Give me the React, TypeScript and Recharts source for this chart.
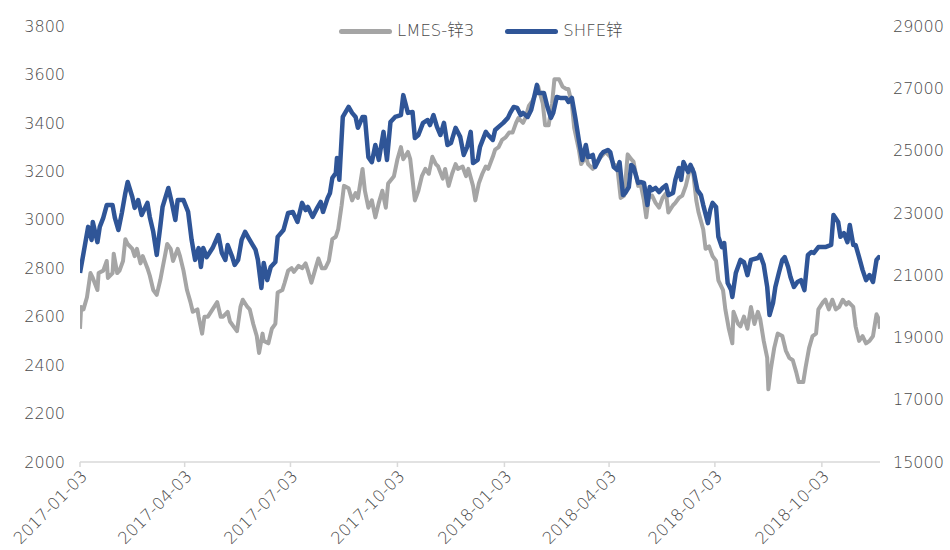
import React from 'react';
import { LineChart, Line, XAxis, YAxis, Legend } from 'recharts';

const lmeDates = [
  '2017-01-03','2017-01-04','2017-01-06','2017-01-09','2017-01-12','2017-01-14','2017-01-18','2017-01-19','2017-01-23','2017-01-26',
  '2017-01-27','2017-01-31','2017-02-01','2017-02-04','2017-02-06','2017-02-09','2017-02-11','2017-02-13','2017-02-17','2017-02-19',
  '2017-02-21','2017-02-24','2017-02-26','2017-03-02','2017-03-04','2017-03-07','2017-03-10','2017-03-13','2017-03-15','2017-03-19',
  '2017-03-22','2017-03-24','2017-03-28','2017-03-30','2017-04-02','2017-04-05','2017-04-08','2017-04-10','2017-04-14','2017-04-15',
  '2017-04-18','2017-04-20','2017-04-23','2017-04-27','2017-05-01','2017-05-04','2017-05-06','2017-05-10','2017-05-12','2017-05-15',
  '2017-05-18','2017-05-21','2017-05-23','2017-05-27','2017-05-29','2017-06-01','2017-06-04','2017-06-06','2017-06-09','2017-06-10',
  '2017-06-14','2017-06-17','2017-06-20','2017-06-22','2017-06-26','2017-06-28','2017-07-01','2017-07-04','2017-07-06','2017-07-10',
  '2017-07-13','2017-07-16','2017-07-18','2017-07-21','2017-07-24','2017-07-27','2017-07-30','2017-08-02','2017-08-05','2017-08-08',
  '2017-08-11','2017-08-13','2017-08-16','2017-08-18','2017-08-22','2017-08-25','2017-08-28','2017-08-30','2017-09-03','2017-09-05',
  '2017-09-08','2017-09-11','2017-09-14','2017-09-17','2017-09-20','2017-09-23','2017-09-25','2017-09-30','2017-10-03','2017-10-06',
  '2017-10-08','2017-10-12','2017-10-14','2017-10-18','2017-10-21','2017-10-24','2017-10-27','2017-10-30','2017-11-02','2017-11-05',
  '2017-11-07','2017-11-11','2017-11-13','2017-11-16','2017-11-19','2017-11-22','2017-11-24','2017-11-28','2017-12-01','2017-12-03',
  '2017-12-07','2017-12-09','2017-12-12','2017-12-15','2017-12-18','2017-12-20','2017-12-24','2017-12-26','2017-12-29','2018-01-01',
  '2018-01-04','2018-01-07','2018-01-10','2018-01-13','2018-01-15','2018-01-19','2018-01-21','2018-01-24','2018-01-27','2018-01-30',
  '2018-02-01','2018-02-05','2018-02-07','2018-02-10','2018-02-13','2018-02-15','2018-02-19','2018-02-22','2018-02-25','2018-02-27',
  '2018-03-02','2018-03-04','2018-03-08','2018-03-10','2018-03-14','2018-03-16','2018-03-20','2018-03-22','2018-03-27','2018-03-31',
  '2018-04-04','2018-04-07','2018-04-10','2018-04-13','2018-04-16','2018-04-19','2018-04-22','2018-04-24','2018-04-28','2018-04-30',
  '2018-05-03','2018-05-05','2018-05-07','2018-05-10','2018-05-13','2018-05-16','2018-05-19','2018-05-22','2018-05-24','2018-05-28',
  '2018-05-30','2018-06-02','2018-06-05','2018-06-08','2018-06-11','2018-06-14','2018-06-17','2018-06-19','2018-06-23','2018-06-25',
  '2018-06-28','2018-07-01','2018-07-04','2018-07-06','2018-07-10','2018-07-12','2018-07-15','2018-07-18','2018-07-19','2018-07-23',
  '2018-07-25','2018-07-28','2018-07-31','2018-08-03','2018-08-06','2018-08-09','2018-08-11','2018-08-14','2018-08-17','2018-08-18',
  '2018-08-20','2018-08-23','2018-08-26','2018-08-30','2018-09-02','2018-09-05','2018-09-08','2018-09-11','2018-09-13','2018-09-17',
  '2018-09-19','2018-09-22','2018-09-25','2018-09-28','2018-09-30','2018-10-04','2018-10-06','2018-10-09','2018-10-12','2018-10-15',
  '2018-10-18','2018-10-21','2018-10-24','2018-10-26','2018-10-30','2018-11-01','2018-11-04','2018-11-07','2018-11-10','2018-11-13',
  '2018-11-16','2018-11-19','2018-11-21','2018-11-22',
];
const lmeValues = [
  2550,2640,2630,2680,2780,2760,2710,2780,2790,2830,
  2760,2780,2860,2780,2790,2830,2920,2900,2880,2850,
  2880,2820,2850,2800,2770,2710,2690,2750,2800,2900,
  2880,2830,2880,2850,2790,2710,2660,2620,2630,2600,
  2530,2600,2600,2630,2660,2600,2600,2620,2580,2560,
  2540,2640,2670,2640,2630,2570,2520,2450,2530,2500,
  2490,2550,2570,2700,2710,2740,2790,2800,2785,2810,
  2800,2820,2790,2740,2790,2840,2800,2800,2830,2920,
  2930,2960,3060,3140,3130,3080,3110,3090,3210,3120,
  3050,3080,3010,3070,3120,3050,3150,3180,3250,3300,
  3250,3280,3250,3080,3120,3180,3210,3190,3260,3230,
  3220,3170,3210,3140,3190,3230,3210,3220,3180,3210,
  3140,3080,3150,3190,3220,3210,3260,3290,3300,3330,
  3340,3360,3360,3400,3420,3400,3420,3470,3490,3520,
  3550,3480,3390,3390,3480,3580,3580,3550,3540,3540,
  3480,3380,3290,3230,3260,3230,3210,3230,3260,3280,
  3260,3230,3220,3090,3100,3270,3250,3240,3140,3150,
  3080,3010,3090,3100,3070,3050,3090,3110,3030,3060,
  3070,3090,3100,3140,3200,3210,3080,3030,2960,2880,
  2890,2850,2830,2750,2710,2630,2550,2490,2620,2570,
  2560,2600,2550,2640,2570,2620,2590,2500,2430,2300,
  2380,2470,2530,2520,2460,2430,2420,2370,2330,2330,
  2390,2470,2520,2530,2630,2660,2670,2630,2670,2630,
  2640,2670,2650,2660,2640,2560,2500,2520,2490,2500,
  2520,2610,2590,2550,
];

const shfeDates = [
  '2017-01-03','2017-01-05','2017-01-10','2017-01-13','2017-01-14','2017-01-18','2017-01-20','2017-01-23','2017-01-26','2017-01-31',
  '2017-02-02','2017-02-05','2017-02-08','2017-02-11','2017-02-13','2017-02-17','2017-02-19','2017-02-22','2017-02-25','2017-03-02',
  '2017-03-04','2017-03-07','2017-03-10','2017-03-13','2017-03-15','2017-03-20','2017-03-23','2017-03-26','2017-03-28','2017-04-02',
  '2017-04-06','2017-04-09','2017-04-12','2017-04-15','2017-04-17','2017-04-19','2017-04-22','2017-04-27','2017-05-02','2017-05-05',
  '2017-05-08','2017-05-10','2017-05-14','2017-05-16','2017-05-19','2017-05-22','2017-05-25','2017-05-28','2017-06-03','2017-06-05',
  '2017-06-08','2017-06-10','2017-06-13','2017-06-16','2017-06-20','2017-06-22','2017-06-27','2017-07-01','2017-07-05','2017-07-09',
  '2017-07-13','2017-07-16','2017-07-18','2017-07-22','2017-07-26','2017-07-29','2017-07-31','2017-08-04','2017-08-06','2017-08-08',
  '2017-08-11','2017-08-12','2017-08-14','2017-08-17','2017-08-22','2017-08-25','2017-08-28','2017-08-30','2017-09-03','2017-09-05',
  '2017-09-08','2017-09-11','2017-09-14','2017-09-17','2017-09-21','2017-09-24','2017-09-27','2017-10-01','2017-10-06','2017-10-08',
  '2017-10-12','2017-10-16','2017-10-18','2017-10-21','2017-10-25','2017-10-29','2017-10-31','2017-11-03','2017-11-06','2017-11-09',
  '2017-11-12','2017-11-15','2017-11-18','2017-11-22','2017-11-26','2017-11-29','2017-12-02','2017-12-05','2017-12-07','2017-12-11',
  '2017-12-13','2017-12-18','2017-12-20','2017-12-24','2017-12-26','2017-12-29','2018-01-02','2018-01-06','2018-01-08','2018-01-11',
  '2018-01-14','2018-01-17','2018-01-19','2018-01-23','2018-01-26','2018-01-28','2018-01-31','2018-02-01','2018-02-06','2018-02-09',
  '2018-02-12','2018-02-14','2018-02-17','2018-02-20','2018-02-25','2018-02-27','2018-03-02','2018-03-05','2018-03-08','2018-03-11',
  '2018-03-14','2018-03-16','2018-03-20','2018-03-22','2018-03-25','2018-03-27','2018-03-29','2018-04-02','2018-04-04','2018-04-07',
  '2018-04-10','2018-04-12','2018-04-15','2018-04-17','2018-04-20','2018-04-22','2018-04-24','2018-04-28','2018-04-30','2018-05-03',
  '2018-05-06','2018-05-08','2018-05-10','2018-05-13','2018-05-16','2018-05-19','2018-05-22','2018-05-24','2018-05-28','2018-05-30',
  '2018-06-02','2018-06-04','2018-06-06','2018-06-10','2018-06-12','2018-06-15','2018-06-18','2018-06-21','2018-06-23','2018-06-27',
  '2018-06-29','2018-07-01','2018-07-04','2018-07-06','2018-07-09','2018-07-11','2018-07-14','2018-07-17','2018-07-18','2018-07-21',
  '2018-07-25','2018-07-28','2018-07-31','2018-08-03','2018-08-09','2018-08-11','2018-08-14','2018-08-17','2018-08-19','2018-08-22',
  '2018-08-24','2018-08-27','2018-08-30','2018-09-01','2018-09-04','2018-09-06','2018-09-09','2018-09-12','2018-09-15','2018-09-18',
  '2018-09-21','2018-09-24','2018-09-26','2018-09-30','2018-10-06','2018-10-11','2018-10-13','2018-10-17','2018-10-19','2018-10-22',
  '2018-10-25','2018-10-27','2018-10-30','2018-11-01','2018-11-04','2018-11-07','2018-11-10','2018-11-13','2018-11-16','2018-11-19',
  '2018-11-21','2018-11-22',
];
const shfeValues = [
  21070,21490,22550,22130,22710,22060,22550,22840,23250,23250,
  22840,22450,23000,23640,23990,23510,23160,23410,22930,23320,
  22870,22390,21650,22550,23190,23800,23320,22770,23410,23410,
  23030,22130,21490,21870,21260,21870,21580,21870,22290,21710,
  21490,21970,21580,21330,21490,22130,22390,22190,21810,21490,
  20590,21390,20840,21260,21420,22230,22450,23000,23030,22710,
  23320,23090,23190,22870,23160,23350,23030,23480,23640,24120,
  24280,24760,24060,26080,26400,26210,26080,25730,26080,26080,
  24790,24630,25180,24700,25600,24700,25920,26080,26140,26780,
  26210,26240,25400,25500,25890,25980,25820,26140,25760,25500,
  25890,25180,25240,25730,25440,24860,25120,25600,24600,24700,
  25120,25600,25500,25340,25660,25760,25890,26050,26210,26400,
  26370,26140,26210,26080,26300,26620,27110,26850,26850,26400,
  26050,26210,26720,26690,26690,26560,26690,26050,25340,24700,
  25180,24790,24860,24470,24700,24860,24950,25020,24950,24470,
  24380,24630,23570,23640,23830,24540,24470,23960,23990,23960,
  23250,23830,23730,23800,23670,23800,23890,23570,23640,24060,
  24440,24060,24630,24310,24540,24280,23730,23570,23250,22670,
  23090,23320,23190,22230,21900,22030,20750,20520,20300,21070,
  21490,21420,21000,21490,21550,21650,21330,20620,19720,20110,
  20620,21070,21490,21580,21260,20940,20620,20780,20840,20520,
  21650,21740,21710,21900,21900,21970,22930,22710,22230,22350,
  22060,22610,21970,21970,21580,21170,20840,21000,20780,21490,
  21580,21550,
];

const xTickLabels = ['2017-01-03','2017-04-03','2017-07-03','2017-10-03','2018-01-03','2018-04-03','2018-07-03','2018-10-03'];
const xDomainLabels = ['2017-01-03', '2018-11-22'];
const leftTicks = [2000, 2200, 2400, 2600, 2800, 3000, 3200, 3400, 3600, 3800];
const rightTicks = [15000, 17000, 19000, 21000, 23000, 25000, 27000, 29000];
const seriesNames = ['LMES-锌3', 'SHFE锌'];
const seriesColors = ['#a5a5a5', '#2f5597'];

const toT = (s: string) => Date.parse(s + 'T00:00:00Z');
const fmt = (v: number) => new Date(v).toISOString().slice(0, 10);

function buildData() {
  const map = new Map<number, any>();
  lmeDates.forEach((d, i) => {
    const t = toT(d);
    const e = map.get(t) || { t };
    e.lme = lmeValues[i];
    map.set(t, e);
  });
  shfeDates.forEach((d, i) => {
    const t = toT(d);
    const e = map.get(t) || { t };
    e.shfe = shfeValues[i];
    map.set(t, e);
  });
  return Array.from(map.values()).sort((a, b) => a.t - b.t);
}

const data = buildData();
const FONT = "'DejaVu Sans', 'Noto Sans CJK SC', sans-serif";
const TEXT = '#4a4a4a';
const WEIGHT = 300;

const LegendContent = (props: any) => {
  const items = (props && props.payload && props.payload.length)
    ? props.payload.map((p: any) => ({ value: p.value, color: p.color }))
    : seriesNames.map((n, i) => ({ value: n, color: seriesColors[i] }));
  return (
    <div style={{ position: 'relative', height: 0 }}>
      <div style={{ position: 'absolute', left: 339, top: 20, display: 'flex', alignItems: 'center', whiteSpace: 'nowrap' }}>
        {items.map((it: any, i: number) => (
          <div key={i} style={{ display: 'flex', alignItems: 'center', marginRight: i === 0 ? 31 : 0 }}>
            <div style={{ width: 53, height: 5, borderRadius: 3, background: it.color, marginRight: 5 }} />
            <span style={{ fontFamily: FONT, fontWeight: WEIGHT, fontSize: 16.5, color: TEXT, lineHeight: '22px' }}>{it.value}</span>
          </div>
        ))}
      </div>
    </div>
  );
};

const tickStyle = { fill: TEXT, fontSize: 16, fontFamily: FONT, fontWeight: WEIGHT };

export default function App() {
  return (
    <div style={{ position: 'absolute', left: 0, top: 0, width: 950, height: 550, background: '#fff', fontFamily: FONT }}>
      <LineChart width={950} height={550} data={data} margin={{ top: 26, right: 0, bottom: 0, left: 0 }}>
        <XAxis
          dataKey="t"
          type="number"
          domain={xDomainLabels.map(toT)}
          allowDataOverflow
          ticks={xTickLabels.map(toT)}
          interval={0}
          tickFormatter={fmt}
          angle={-45}
          textAnchor="end"
          height={88}
          tickSize={5}
          tickMargin={2}
          axisLine={{ stroke: '#d9d9d9', strokeWidth: 1.5 }}
          tickLine={{ stroke: '#d9d9d9', strokeWidth: 1.5 }}
          tick={{ ...tickStyle, fontSize: 16.5 }}
        />
        <YAxis
          yAxisId="left"
          width={80}
          domain={[2000, 3800]}
          ticks={leftTicks}
          interval={0}
          axisLine={false}
          tickLine={false}
          tickSize={0}
          tickMargin={15}
          tick={tickStyle}
        />
        <YAxis
          yAxisId="right"
          orientation="right"
          width={70}
          domain={[15000, 29000]}
          ticks={rightTicks}
          interval={0}
          axisLine={false}
          tickLine={false}
          tickSize={0}
          tickMargin={13}
          tick={tickStyle}
        />
        <Legend
          verticalAlign="top"
          align="left"
          wrapperStyle={{ top: 0, left: 0, width: 950, height: 0 }}
          content={LegendContent}
        />
        <Line
          yAxisId="left"
          dataKey="lme"
          name={seriesNames[0]}
          stroke={seriesColors[0]}
          strokeWidth={4}
          dot={false}
          connectNulls
          type="linear"
          strokeLinejoin="round"
          isAnimationActive={false}
        />
        <Line
          yAxisId="right"
          dataKey="shfe"
          name={seriesNames[1]}
          stroke={seriesColors[1]}
          strokeWidth={4.5}
          dot={false}
          connectNulls
          type="linear"
          strokeLinejoin="round"
          isAnimationActive={false}
        />
      </LineChart>
    </div>
  );
}
